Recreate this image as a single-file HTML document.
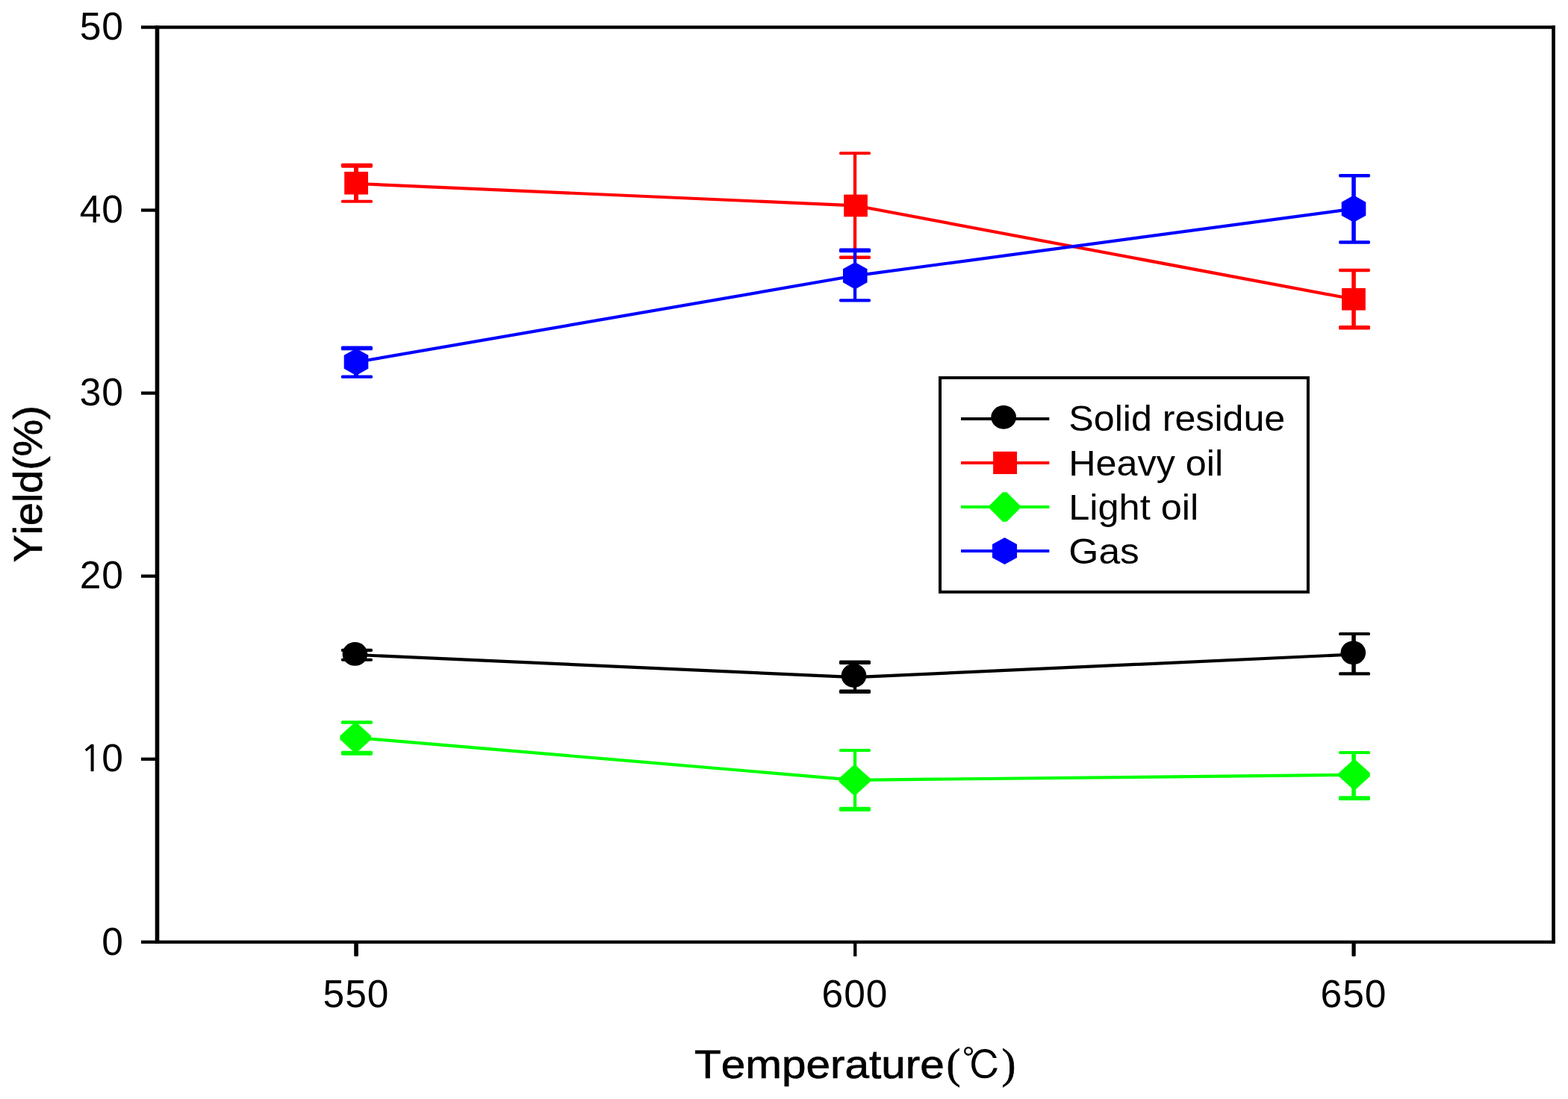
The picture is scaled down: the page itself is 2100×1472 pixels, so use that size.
<!DOCTYPE html>
<html><head><meta charset="utf-8"><title>Yield vs Temperature</title>
<style>
html,body{margin:0;padding:0;background:#fff;}
body{width:2100px;height:1472px;overflow:hidden;}
svg{display:block;}
svg{font-family:"Liberation Sans",Arial,sans-serif;}
text{fill:#000;font-kerning:none;}
</style></head>
<body>
<svg width="2100" height="1472" viewBox="0 0 2100 1472">
<rect x="0" y="0" width="2100" height="1472" fill="#fff"/>
<!-- frame -->
<g fill="#000">
<rect x="207.7" y="34.3" width="5.6" height="1229.5"/>
<rect x="2078.2" y="34.3" width="4.7" height="1229.5"/>
<rect x="189" y="34.3" width="1893.9" height="4.4"/>
<rect x="189" y="1259.6" width="1893.9" height="4.3"/>
<!-- y ticks -->
<rect x="189" y="279.4" width="20" height="4.3"/>
<rect x="189" y="524.4" width="20" height="4.3"/>
<rect x="189" y="769.5" width="20" height="4.3"/>
<rect x="189" y="1014.6" width="20" height="4.3"/>
<!-- x ticks -->
<rect x="474.2" y="1262" width="5.7" height="19" rx="1.5"/>
<rect x="1143.1" y="1262" width="4.3" height="19"/>
<rect x="1810.4" y="1262" width="5.3" height="19" rx="1.5"/>
</g>
<!-- tick labels -->
<g font-size="51.5" text-anchor="end" letter-spacing="1">
<text x="166" y="53">50</text>
<text x="166" y="298">40</text>
<text x="166" y="543">30</text>
<text x="166" y="788">20</text>
<text x="166" y="1033"><tspan font-family="NanumGothic,sans-serif" font-size="48" stroke="#000" stroke-width="0.5">1</tspan><tspan dx="-1.2">0</tspan></text>
<text x="166" y="1279">0</text>
</g>
<g font-size="51.5" text-anchor="middle" letter-spacing="1">
<text x="477" y="1349">550</text>
<text x="1145" y="1349">600</text>
<text x="1813" y="1349">650</text>
</g>
<!-- axis titles -->
<g stroke="#000" stroke-width="0.7">
<text x="930" y="1443.7" font-size="54.5"><tspan textLength="334.9" lengthAdjust="spacingAndGlyphs">Temperature</tspan><tspan x="1267.5" y="1444" font-size="56.7" font-family="'Liberation Serif',serif">(</tspan><tspan x="1288.2" y="1446" font-size="53.2" font-family="'Liberation Serif','IPAGothic',serif" stroke-width="0">℃</tspan><tspan x="1341.4" y="1444" font-size="56.7" font-family="'Liberation Serif',serif">)</tspan></text>
<text transform="translate(56.2,753.3) rotate(-90)" font-size="54.5" textLength="210" lengthAdjust="spacingAndGlyphs">Yield(%)</text>
</g>
<!-- data lines -->
<g fill="#000" stroke="#000">
<polyline fill="none" stroke-width="4.2" stroke-linejoin="round" points="477,877 1145,907.2 1813,876.5"/>
<g stroke="none">
<rect x="474" y="870.85" width="6" height="12.9"/>
<rect x="456.9" y="868.8" width="42.1" height="4.1" rx="1.6"/>
<rect x="456.9" y="881.8" width="42.1" height="3.9" rx="1.6"/>
<rect x="1142.9" y="887.2" width="4.3" height="39.1"/>
<rect x="1124" y="884.4" width="42" height="5.6" rx="1.6"/>
<rect x="1124" y="923.6" width="42" height="5.4" rx="1.6"/>
<rect x="1810.2" y="849.1" width="5.6" height="53.35"/>
<rect x="1793" y="847.1" width="42" height="4" rx="1.6"/>
<rect x="1793" y="900.3" width="42" height="4.3" rx="1.6"/>
</g>
<g stroke="none">
<ellipse cx="475.4" cy="875.9" rx="16.8" ry="15.9"/>
<ellipse cx="1143.5" cy="905" rx="16.8" ry="15.9"/>
<ellipse cx="1812.3" cy="874.3" rx="16.8" ry="15.9"/>
</g>
</g>
<g fill="#f00" stroke="#f00">
<polyline fill="none" stroke-width="4.2" stroke-linejoin="round" points="477,246 1145,275.3 1813,400.8"/>
<g stroke="none">
<rect x="474" y="221.68" width="6" height="48.12"/>
<rect x="456.9" y="218.7" width="42.1" height="5.95" rx="1.6"/>
<rect x="456.9" y="267.8" width="42.1" height="4" rx="1.6"/>
<rect x="1142.9" y="205.25" width="4.3" height="139.45"/>
<rect x="1124" y="203.3" width="42" height="3.9" rx="1.6"/>
<rect x="1124" y="342.5" width="42" height="4.4" rx="1.6"/>
<rect x="1810.2" y="362" width="5.6" height="76.8"/>
<rect x="1793" y="359.8" width="42" height="4.4" rx="1.6"/>
<rect x="1793" y="436" width="42" height="5.6" rx="1.6"/>
</g>
<g stroke="none">
<rect x="461.2" y="230" width="31.8" height="30.5"/>
<rect x="1130.2" y="260.6" width="31.7" height="29.7"/>
<rect x="1797" y="385.9" width="31.8" height="29.7"/>
</g>
</g>
<g fill="#0f0" stroke="#0f0">
<polyline fill="none" stroke-width="4.2" stroke-linejoin="round" points="477,988 1145,1044.8 1813,1037.8"/>
<g stroke="none">
<rect x="474" y="967.5" width="6" height="41.2"/>
<rect x="456.9" y="965.2" width="42.1" height="4.6" rx="1.6"/>
<rect x="456.9" y="1005.7" width="42.1" height="6" rx="1.6"/>
<rect x="1142.9" y="1005.05" width="4.3" height="78.75"/>
<rect x="1124" y="1003.1" width="42" height="3.9" rx="1.6"/>
<rect x="1124" y="1080.8" width="42" height="6" rx="1.6"/>
<rect x="1810.2" y="1008" width="5.6" height="61.1"/>
<rect x="1793" y="1006" width="42" height="4" rx="1.6"/>
<rect x="1793" y="1066.2" width="42" height="5.8" rx="1.6"/>
</g>
<g stroke="none">
<polygon points="473.8,968.8 478.6,968.8 497,985.6 497,990.4 478.6,1007.2 473.8,1007.2 455.4,990.4 455.4,985.6"/>
<polygon points="1142.1,1025.65 1146.9,1025.65 1165.3,1042.45 1165.3,1047.25 1146.9,1064.05 1142.1,1064.05 1123.7,1047.25 1123.7,1042.45"/>
<polygon points="1811.5,1018.4 1816.3,1018.4 1834.7,1035.2 1834.7,1040 1816.3,1056.8 1811.5,1056.8 1793.1,1040 1793.1,1035.2"/>
</g>
</g>
<g fill="#00f" stroke="#00f">
<polyline fill="none" stroke-width="4.2" stroke-linejoin="round" points="477,485 1145,369.3 1813,279.6"/>
<g stroke="none">
<rect x="474" y="466.45" width="6" height="38.2"/>
<rect x="456.9" y="463.6" width="42.1" height="5.7" rx="1.6"/>
<rect x="456.9" y="502.5" width="42.1" height="4.3" rx="1.6"/>
<rect x="1142.9" y="335.45" width="4.3" height="66.85"/>
<rect x="1124" y="332.6" width="42" height="5.7" rx="1.6"/>
<rect x="1124" y="400.2" width="42" height="4.2" rx="1.6"/>
<rect x="1810.2" y="235.2" width="5.6" height="89.3"/>
<rect x="1793" y="233" width="42" height="4.4" rx="1.6"/>
<rect x="1793" y="322.3" width="42" height="4.4" rx="1.6"/>
</g>
<g stroke="none">
<polygon points="477,466.7 493.3,475.8 493.3,493.8 477,502.9 460.7,493.8 460.7,475.8"/>
<polygon points="1145.25,351.25 1161.55,360.35 1161.55,378.35 1145.25,387.45 1128.95,378.35 1128.95,360.35"/>
<polygon points="1813,261.55 1829.3,270.65 1829.3,288.65 1813,297.75 1796.7,288.65 1796.7,270.65"/>
</g>
</g>
<!-- legend -->
<rect x="1259" y="506" width="492.9" height="286.9" fill="#fff" stroke="#000" stroke-width="4"/>
<g stroke-width="4">
<line x1="1287" y1="561" x2="1405.3" y2="561" stroke="#000"/>
<line x1="1287" y1="620" x2="1405.3" y2="620" stroke="#f00"/>
<line x1="1287" y1="679" x2="1405.3" y2="679" stroke="#0f0"/>
<line x1="1287" y1="738.1" x2="1405.3" y2="738.1" stroke="#00f"/>
</g>
<g stroke="none">
<g fill="#000"><ellipse cx="1344.15" cy="558.85" rx="16.85" ry="15.85"/></g>
<g fill="#f00"><rect x="1330.1" y="604.8" width="31.9" height="30.2"/></g>
<g fill="#0f0"><polygon points="1342.9,659.2 1348.3,659.2 1365.3,676.3 1365.3,681.7 1348.3,698.8 1342.9,698.8 1325.9,681.7 1325.9,676.3"/></g>
<g fill="#00f"><polygon points="1345.5,720 1362,729 1362,747 1345.5,756 1329,747 1329,729"/></g>
</g>
<g font-size="47.5">
<text x="1431.3" y="577.1" textLength="289.9" lengthAdjust="spacingAndGlyphs">Solid residue</text>
<text x="1431.3" y="636.6" textLength="206.8" lengthAdjust="spacingAndGlyphs">Heavy oil</text>
<text x="1431.3" y="695.8" textLength="173.9" lengthAdjust="spacingAndGlyphs">Light oil</text>
<text x="1431.3" y="754.8" textLength="94.6" lengthAdjust="spacingAndGlyphs">Gas</text>
</g>
</svg>
</body></html>
